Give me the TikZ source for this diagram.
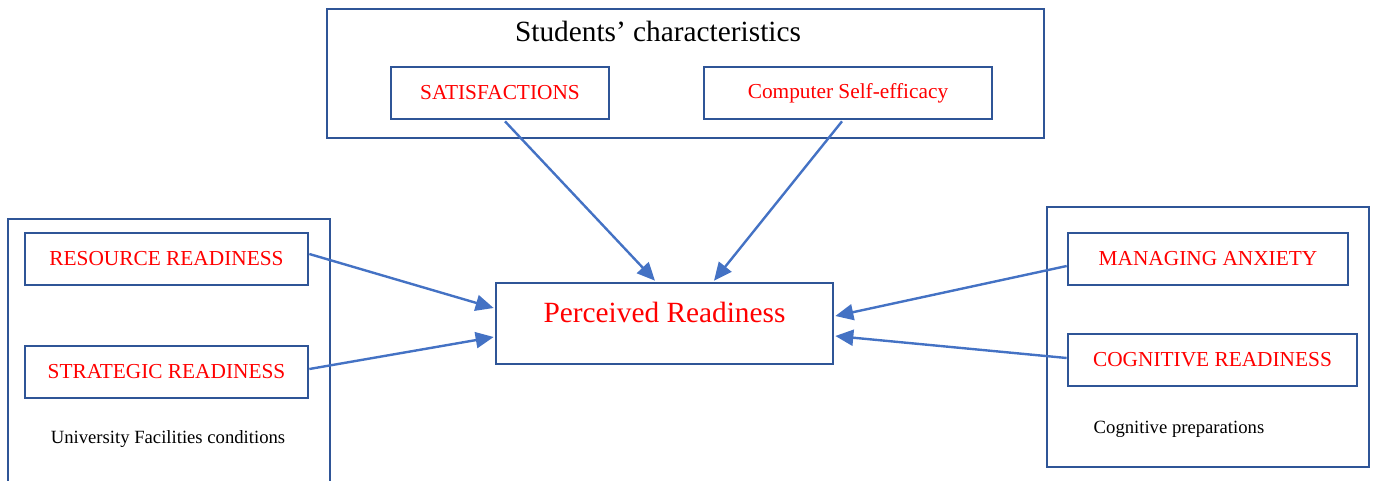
\documentclass[tikz,border=0pt]{standalone}
\usepackage{fontspec}
\setmainfont{Liberation Serif}
\usetikzlibrary{arrows.meta,calc}
\newdimen\px \px=0.75pt
\definecolor{boxblue}{HTML}{2F5597}
\definecolor{arrblue}{HTML}{4472C4}
\begin{document}
\begin{tikzpicture}[x=0.75pt,y=-0.75pt,
  box/.style={draw=boxblue,line width=2pt,inner sep=0pt,fill=none},
  redtext/.style={text=red,font=\fontsize{16}{19}\selectfont},
  bigred/.style={text=red,font=\fontsize{22}{26}\selectfont},
  caption/.style={text=black,font=\fontsize{14}{17}\selectfont},
  conn/.style={draw=arrblue,line width=1.8pt,-{Triangle[length=13.5pt,width=12pt]}}]
\useasboundingbox (0,0) rectangle (1375,480);
% outer boxes
\node[box,minimum width=717\px,minimum height=129\px] (top) at (685.5,73.5) {};
\node[font=\fontsize{22}{26}\selectfont] (toptitle) at (658,31) {Students’ characteristics};
\node[box,minimum width=322\px,minimum height=280\px] (left) at (169,359) {};
\node[box,minimum width=322\px,minimum height=260\px] (right) at (1208,337) {};
\node[caption] (leftcap) at (168,439) {University Facilities conditions};
\node[caption,anchor=west] (rightcap) at (1089,429) {Cognitive preparations};
% inner boxes
\node[box,redtext,minimum width=218\px,minimum height=52\px] (sat) at (500,93) {SATISFACTIONS};
\node[box,redtext,minimum width=288\px,minimum height=52\px] (comp) at (848,93) {Computer Self-efficacy};
\node[box,redtext,minimum width=283\px,minimum height=52\px] (res) at (166.5,259) {RESOURCE READINESS};
\node[box,redtext,minimum width=283\px,minimum height=52\px] (strat) at (166.5,372) {STRATEGIC READINESS};
\node[box,redtext,minimum width=280\px,minimum height=52\px] (man) at (1208,259) {MANAGING ANXIETY};
\node[box,redtext,minimum width=289\px,minimum height=52\px] (cog) at (1212.5,360) {COGNITIVE READINESS};
\node[box,minimum width=337\px,minimum height=81\px] (pr) at (664.5,323.5) {};
\node[bigred] (prtext) at (664.5,312) {Perceived Readiness};
% connectors
\draw[conn] ($(sat.south)+(5,1)$) -- ($(pr.north)+(-9.5,-1)$);
\draw[conn] ($(comp.south)+(-6,1)$) -- ($(pr.north)+(49.5,-1)$);
\draw[conn] ($(res.east)+(0,-5)$) -- ($(pr.west)+(-1,-15.5)$);
\draw[conn] ($(strat.east)+(0,-3)$) -- ($(pr.west)+(-1,13.5)$);
\draw[conn] ($(man.west)+(0,7)$) -- ($(pr.east)+(1,-7.5)$);
\draw[conn] ($(cog.west)+(0,-2)$) -- ($(pr.east)+(1,12.5)$);
\end{tikzpicture}
\end{document}
